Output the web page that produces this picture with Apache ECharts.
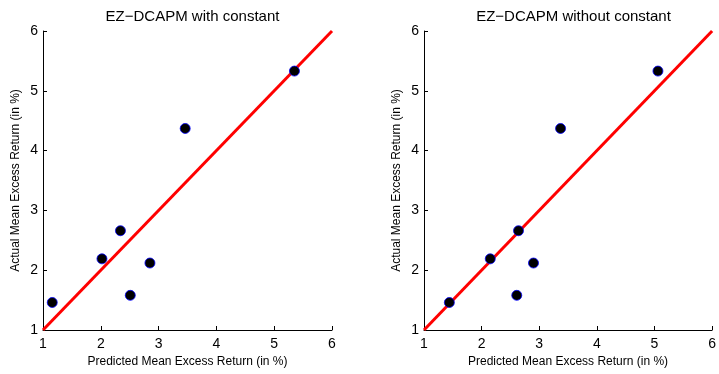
<!DOCTYPE html>
<html>
<head>
<meta charset="utf-8">
<script src="https://cdn.jsdelivr.net/npm/echarts@6/dist/echarts.min.js"></script>
<style>
  html, body { margin: 0; padding: 0; background: #fff; }
  #chart { width: 719px; height: 374px; }
</style>
</head>
<body>
<div id="chart"></div>
<script>
// panel titles
const titles = ['EZ\u2212DCAPM with constant', 'EZ\u2212DCAPM without constant']

// actual mean excess returns (same for both panels)
const actual = [1.46, 2.19, 2.66, 1.58, 2.12, 4.37, 5.33]

// predicted mean excess returns
const predictedWithConst = [1.16, 2.02, 2.34, 2.51, 2.85, 3.46, 5.35]
const predictedNoConst = [1.44, 2.15, 2.64, 2.61, 2.90, 3.37, 5.06]

// 45-degree reference line
const diagonal = [1, 6]

const ticks = [1, 2, 3, 4, 5, 6]

const font = '"Liberation Sans", Arial, sans-serif'

const pairs = (xs, ys) => xs.map((x, i) => [x, ys[i]])

const grids = [
  { left: 43, right: 387, top: 31, bottom: 44 },
  { left: 424, right: 6, top: 31, bottom: 44 },
]

function axis(gridIndex, name, vertical) {
  return {
    type: 'value',
    gridIndex,
    min: ticks[0],
    max: ticks[ticks.length - 1],
    interval: 1,
    name,
    nameLocation: 'middle',
    nameGap: vertical ? 21 : 25,
    nameTextStyle: { color: '#000', fontFamily: font, fontSize: 12 },
    axisLine: { show: true, lineStyle: { color: '#000', width: 1 } },
    axisTick: { show: true, inside: true, length: 4, lineStyle: { color: '#000' } },
    axisLabel: { color: '#000', fontFamily: font, fontSize: 14, margin: vertical ? 5 : 7 },
    splitLine: { show: false },
  }
}

const panels = [predictedWithConst, predictedNoConst]

const option = {
  animation: false,
  backgroundColor: '#fff',
  title: titles.map((t, i) => ({
    text: t,
    left: grids[i].left + (719 - grids[i].left - grids[i].right) / 2,
    textAlign: 'center',
    top: 4,
    textStyle: { color: '#000', fontFamily: font, fontSize: 15, fontWeight: 'normal' },
  })),
  grid: grids,
  xAxis: panels.map((_, i) => axis(i, 'Predicted Mean Excess Return (in %)', false)),
  yAxis: panels.map((_, i) => axis(i, 'Actual Mean Excess Return (in %)', true)),
  series: panels.flatMap((pred, i) => [
    {
      type: 'line',
      xAxisIndex: i,
      yAxisIndex: i,
      data: pairs(diagonal, diagonal),
      showSymbol: false,
      lineStyle: { color: '#ff0000', width: 3 },
      z: 2,
    },
    {
      type: 'scatter',
      xAxisIndex: i,
      yAxisIndex: i,
      data: pairs(pred, actual),
      symbolSize: 10,
      itemStyle: { color: '#000', borderColor: '#0000ff', borderWidth: 0.8, opacity: 1 },
      z: 3,
    },
  ]),
}

const chart = echarts.init(document.getElementById('chart'))
chart.setOption(option)
</script>
</body>
</html>
